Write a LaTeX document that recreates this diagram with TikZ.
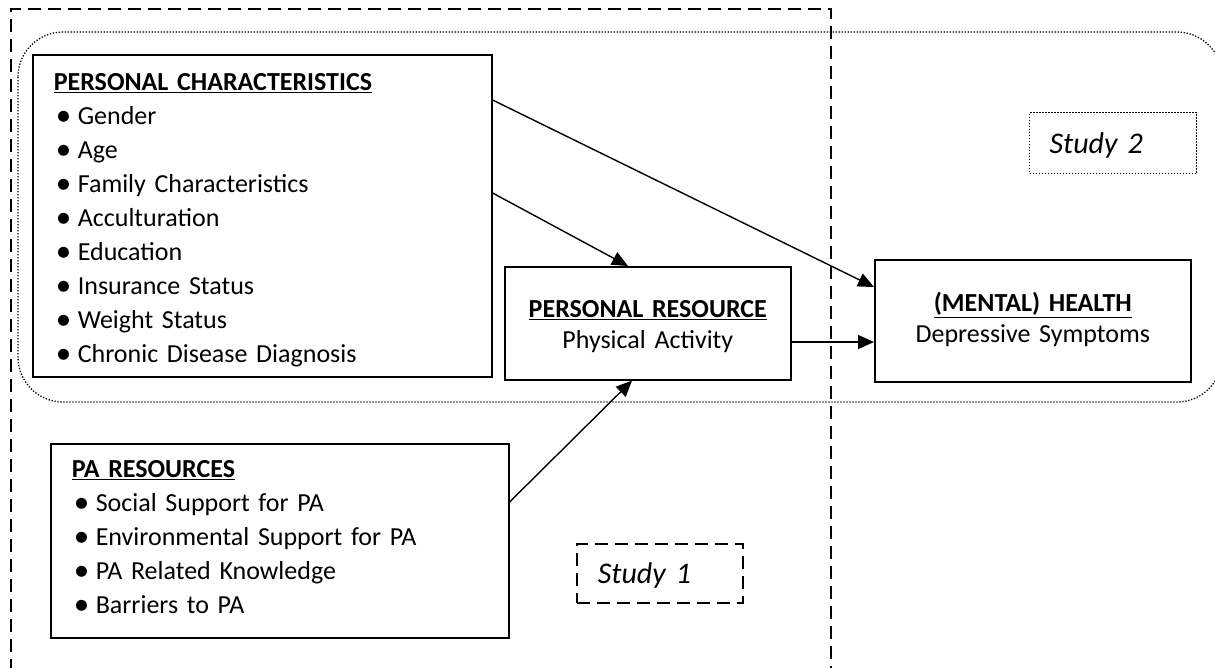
\documentclass[tikz,border=0pt]{standalone}
\usepackage{fontspec}
\setmainfont{Carlito}
\usetikzlibrary{arrows.meta}
\tikzset{box/.style = {draw, fill = white, line width = 1.6, anchor = north west, inner sep = 0, align = left, font = \fontsize{26}{34}\selectfont}}
\tikzset{cbox/.style = {box, align = center, font = \fontsize{26}{31}\selectfont}}
\tikzset{studylabel/.style = {draw, line width = 1.6, anchor = north west, inner sep = 0, align = left, font = \fontsize{30}{36}\selectfont\itshape}}
\tikzset{longdash/.style = {line width = 1.8, dash pattern = on 13pt off 7pt}}
\tikzset{fine dots/.style = {line width = 1.3, dash pattern = on 1.3pt off 1.7pt}}
\tikzset{arr/.style = {line width = 1.4, -{Triangle[length = 16pt, width = 14pt]}}}
\newcommand{\head}[1]{\underline{\textbf{#1}}}
\newcommand{\itm}[1]{\\\hspace*{2pt}\makebox[22pt][l]{\smash{\raisebox{-1pt}{\fontsize{31}{34}\selectfont\textbullet}}}#1}

\begin{document}
\begin{tikzpicture}[x = 1pt, y = -1pt]
      \useasboundingbox (0, 0) rectangle (1215, 667);

      \draw [longdash] (11, 672) -- (11, 9) -- (831, 9) -- (831, 672);
      \draw [fine dots, rounded corners = 45] (18, 32) rectangle (1222, 402);

      \node [box, text width = 417, inner xsep = 21, text height = 36, text depth = 286] (pc) at (32, 54)
        {\head{PERSONAL CHARACTERISTICS}\itm{Gender}\itm{Age}\itm{Family Characteristics}\itm{Acculturation}\itm{Education}\itm{Insurance Status}\itm{Weight Status}\itm{Chronic Disease Diagnosis}};
      \node [box, text width = 416, inner xsep = 21, text height = 34, text depth = 160] (pa) at (50, 443)
        {\head{PA RESOURCES}\itm{Social Support for PA}\itm{Environmental Support for PA}\itm{PA Related Knowledge}\itm{Barriers to PA}};
      \node [cbox, text width = 266, inner xsep = 10, text height = 51, text depth = 62] (pr) at (504, 266)
        {\head{PERSONAL RESOURCE}\\Physical Activity};
      \node [cbox, text width = 296, inner xsep = 10, text height = 52, text depth = 70] (mh) at (874, 259)
        {\head{(MENTAL) HEALTH}\\Depressive Symptoms};

      \node [studylabel, fine dots, text width = 127, inner xsep = 20, text height = 41, text depth = 20] (s2) at (1029, 112) {Study 2};
      \node [studylabel, longdash, text width = 124, inner xsep = 21, text height = 40, text depth = 19] (s1) at (576, 543) {Study 1};

      \draw [arr] ([yshift = -46pt] pc.north east) -- ([yshift = -28pt] mh.north west);
      \draw [arr] ([yshift = -139pt] pc.north east) -- ([xshift = 124pt] pr.north west);
      \draw [arr] ([yshift = -76pt] pr.north east) -- ([yshift = -83pt] mh.north west);
      \draw [arr] ([yshift = -59pt] pa.north east) -- ([xshift = 128pt] pr.south west);
    \end{tikzpicture}
\end{document}
